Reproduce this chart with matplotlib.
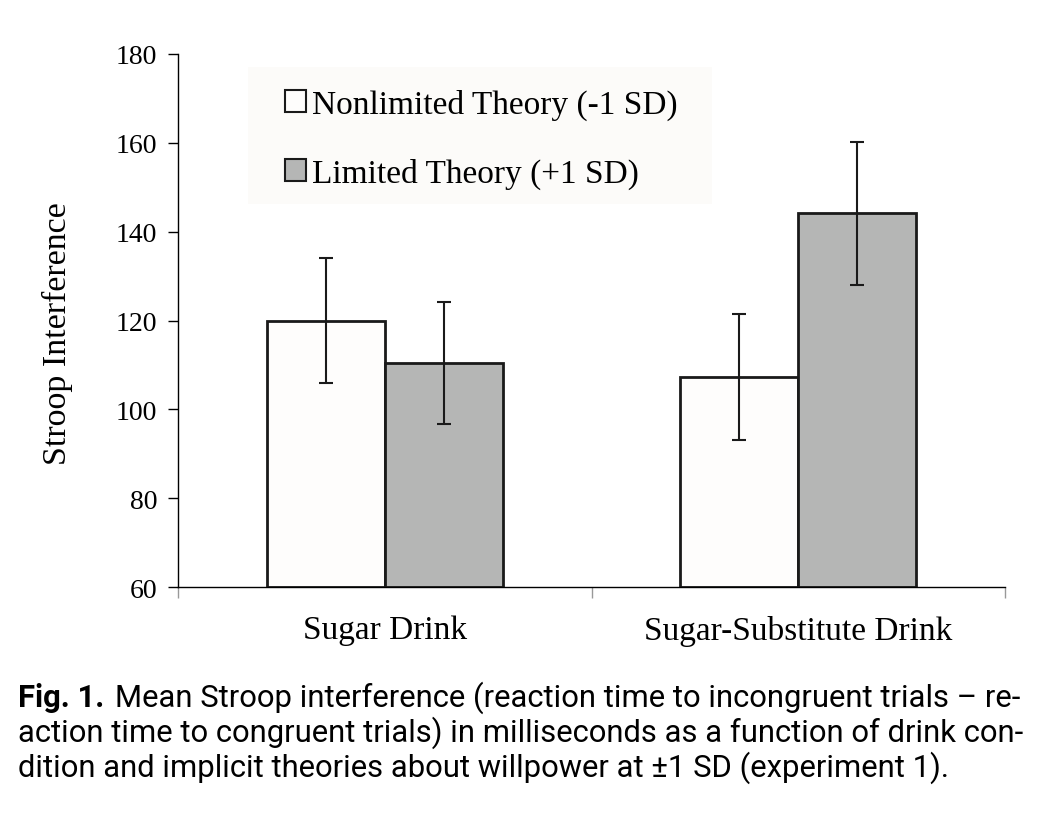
import numpy as np
import matplotlib.pyplot as plt
from matplotlib.patches import Patch, Rectangle

# -----------------------------
# data
# -----------------------------
categories = ["Sugar Drink", "Sugar-Substitute Drink"]
series_names = ["Nonlimited Theory (-1 SD)", "Limited Theory (+1 SD)"]
nonlimited = [120.0, 107.2]
limited = [110.4, 144.2]
nonlimited_err = [14.1, 14.2]
limited_err = [13.8, 16.1]
yticks = [60, 80, 100, 120, 140, 160, 180]

caption_lines = [
    "Mean Stroop interference (reaction time to incongruent trials \u2013 re-",
    "action time to congruent trials) in milliseconds as a function of drink con-",
    "dition and implicit theories about willpower at \u00b11 SD (experiment 1).",
]

W, H = 1039, 828
serif = "Liberation Serif"
fig = plt.figure(figsize=(W / 100, H / 100), dpi=100)
ax = fig.add_axes([178 / W, 1 - 588 / H, 827 / W, 533 / H])

x = np.arange(len(categories))
w = 0.285
ax.bar(x - w / 2, np.array(nonlimited) - 60, w, bottom=60, color="#fefdfc",
       edgecolor="#1a1a1a", linewidth=2, zorder=2)
ax.bar(x + w / 2, np.array(limited) - 60, w, bottom=60, color="#b5b6b5",
       edgecolor="#1a1a1a", linewidth=2, zorder=2)
ax.errorbar(x - w / 2, nonlimited, yerr=nonlimited_err, fmt="none",
            ecolor="#1a1a1a", elinewidth=1.5, capsize=4.7, capthick=1.5, zorder=3)
ax.errorbar(x + w / 2, limited, yerr=limited_err, fmt="none",
            ecolor="#1a1a1a", elinewidth=1.5, capsize=4.7, capthick=1.5, zorder=3)

ax.set_xlim(-0.5, len(categories) - 0.5)
ax.set_ylim(60, 180)
ax.set_yticks(yticks)
ax.set_yticklabels([str(t) for t in yticks], fontfamily=serif, fontsize=20)
ax.tick_params(axis="y", direction="out", length=7, width=1, pad=8)

# category boundary ticks on the x axis, labels in the middle
ax.set_xticks([-0.5, 0.5, 1.5])
ax.set_xticklabels([])
ax.tick_params(axis="x", direction="out", length=8, width=1, color="#999999")
for xi, name in zip(x, categories):
    ax.text(xi, -0.052, name, transform=ax.get_xaxis_transform(), ha="center",
            va="top", fontfamily=serif, fontsize=24)

for s in ["top", "right"]:
    ax.spines[s].set_visible(False)
ax.spines["left"].set_linewidth(1)
ax.spines["bottom"].set_linewidth(1)
ax.set_ylabel("Stroop Interference", fontfamily=serif, fontsize=24.5)
ax.yaxis.label.set(ha="center", va="top", rotation_mode="anchor")
ax.yaxis.set_label_coords(-0.165, 0.477)

# legend on a pale panel
fig.patches.append(Rectangle((248 / W, 1 - 205 / H), 464 / W, 137 / H,
                             transform=fig.transFigure, facecolor="#fcfbf9",
                             edgecolor="none", zorder=0))
handles = [Patch(facecolor="#fefdfc", edgecolor="#1a1a1a", linewidth=1.5),
           Patch(facecolor="#b5b6b5", edgecolor="#1a1a1a", linewidth=1.5)]
leg = fig.legend(handles, series_names, loc="upper left",
                 bbox_to_anchor=(285 / W, 1 - 90 / H), frameon=False,
                 prop={"family": serif, "size": 24}, handlelength=0.62,
                 handleheight=0.62, handletextpad=0.18, labelspacing=1.12,
                 borderpad=0, borderaxespad=0)
leg.set_zorder(5)

# caption, sized so the second line fills the text width
cap_font = ["Roboto", "DejaVu Sans"]
size = 20
probe = fig.text(0, 0, caption_lines[1], fontfamily=cap_font, fontsize=size)
fig.canvas.draw()
width_px = probe.get_window_extent().width
probe.remove()
size = size * 1002 / width_px

fig.text(18 / W, 1 - 707 / H, "Fig. 1.", fontfamily=cap_font,
         fontweight="bold", fontsize=size, va="baseline")
fig.text(1020 / W, 1 - 707 / H, caption_lines[0], fontfamily=cap_font,
         fontsize=size, va="baseline", ha="right")
fig.text(18 / W, 1 - 742 / H, caption_lines[1], fontfamily=cap_font,
         fontsize=size, va="baseline")
fig.text(18 / W, 1 - 777 / H, caption_lines[2], fontfamily=cap_font,
         fontsize=size, va="baseline")

fig.savefig("out.png", dpi=100)
